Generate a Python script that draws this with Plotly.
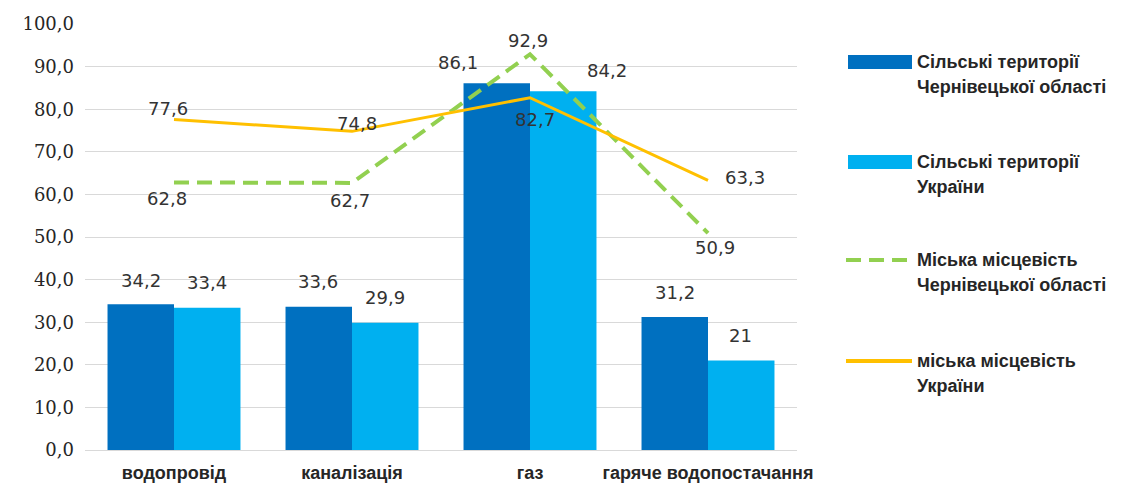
import plotly.graph_objects as go

categories = ["водопровід", "каналізація", "газ", "гаряче водопостачання"]

rural_chernivtsi = [34.2, 33.6, 86.1, 31.2]
rural_ukraine = [33.4, 29.9, 84.2, 21]
urban_chernivtsi = [62.8, 62.7, 92.9, 50.9]
urban_ukraine = [77.6, 74.8, 82.7, 63.3]

rural_chernivtsi_labels = ["34,2", "33,6", "86,1", "31,2"]
rural_ukraine_labels = ["33,4", "29,9", "84,2", "21"]
urban_chernivtsi_labels = ["62,8", "62,7", "92,9", "50,9"]
urban_ukraine_labels = ["77,6", "74,8", "82,7", "63,3"]

legend_names = [
    ("Сільські території", "Чернівецької області"),
    ("Сільські території", "України"),
    ("Міська місцевість", "Чернівецької області"),
    ("міська місцевість", "України"),
]

DARK_BLUE = "#0070C0"
LIGHT_BLUE = "#00B0F0"
GREEN = "#92D050"
ORANGE = "#FFC000"

# label offsets in pixels (dx, dy up) - hand-placed like the original
off_rc = [(-33, 24), (-34, 25), (-72, 21), (-33, 25)]
off_ru = [(33, 25), (33, 25), (77, 21), (32, 25)]
off_uc = [(-7, -16), (-2, -18), (-2, 14), (7, -14)]
off_uu = [(-6, 11), (5, 8), (5, -22), (37, 3)]

# page has an 8px body margin, so the figure is sized/offset to fit the window
PAD = 8
W, H = 1122 - PAD, 488 - PAD
L, R, T, B = 85 - PAD, 325, 24 - PAD, 38

fig = go.Figure()
fig.add_trace(go.Bar(x=categories, y=rural_chernivtsi, marker_color=DARK_BLUE,
                     marker_line_width=0, showlegend=False))
fig.add_trace(go.Bar(x=categories, y=rural_ukraine, marker_color=LIGHT_BLUE,
                     marker_line_width=0, showlegend=False))
fig.add_trace(go.Scatter(x=categories, y=urban_chernivtsi, mode="lines",
                         line=dict(color=GREEN, width=4, dash="15px,8px"),
                         showlegend=False))
fig.add_trace(go.Scatter(x=categories, y=urban_ukraine, mode="lines",
                         line=dict(color=ORANGE, width=3), showlegend=False))

label_font = dict(family="DejaVu Sans", size=18, color="#333333")
annotations = []
for vals, labels, offs in [
    (rural_chernivtsi, rural_chernivtsi_labels, off_rc),
    (rural_ukraine, rural_ukraine_labels, off_ru),
    (urban_chernivtsi, urban_chernivtsi_labels, off_uc),
    (urban_ukraine, urban_ukraine_labels, off_uu),
]:
    for c, v, t, (dx, dy) in zip(categories, vals, labels, offs):
        annotations.append(dict(x=c, y=v, text=t, showarrow=False,
                                xshift=dx, yshift=dy, font=label_font))

# manual legend to the right of the plot (positions given in page pixels)
def px_x(p):
    return (p - PAD - L) / (W - L - R)

def px_y(p):
    return (H - B - (p - PAD)) / (H - T - B)

legend_font = dict(family="Liberation Sans", size=18, color="#262626", weight="bold")
shapes = []
legend_rows = [62, 162, 260, 361]
for i, ((line1, line2), yc) in enumerate(zip(legend_names, legend_rows)):
    if i < 2:
        shapes.append(dict(type="rect", xref="paper", yref="paper",
                           x0=px_x(848), x1=px_x(912), y0=px_y(yc + 7), y1=px_y(yc - 7),
                           fillcolor=DARK_BLUE if i == 0 else LIGHT_BLUE, line_width=0))
    else:
        shapes.append(dict(type="line", xref="paper", yref="paper",
                           x0=px_x(846), x1=px_x(912), y0=px_y(yc), y1=px_y(yc),
                           line=dict(color=GREEN if i == 2 else ORANGE, width=4,
                                     dash="15px,8px" if i == 2 else "solid")))
    for k, txt in enumerate([line1, line2]):
        annotations.append(dict(xref="paper", yref="paper", x=px_x(915),
                                y=px_y(yc + 25 * k), xanchor="left", yanchor="middle",
                                text=txt, showarrow=False, font=legend_font))

fig.update_layout(
    width=W, height=H,
    margin=dict(l=L, r=R, t=T, b=B),
    barmode="group", bargap=0.253, bargroupgap=0,
    plot_bgcolor="white", paper_bgcolor="white",
    separators=", ",
    showlegend=False,
    annotations=annotations,
    shapes=shapes,
    xaxis=dict(showgrid=False, showline=True, linecolor="#d9d9d9", linewidth=1,
               ticks="outside", ticklen=6, tickcolor="rgba(0,0,0,0)",
               automargin=False,
               tickfont=dict(family="Liberation Sans", size=18, color="#262626",
                             weight="bold")),
    yaxis=dict(range=[0, 100], dtick=10, tickformat=".1f", showgrid=True,
               gridcolor="#d9d9d9", gridwidth=1, zeroline=False,
               ticks="", ticklabelstandoff=10, automargin=False,
               tickfont=dict(family="DejaVu Serif, Liberation Serif, serif",
                             size=18, color="#262626")),
)

fig.write_html("out.html")
